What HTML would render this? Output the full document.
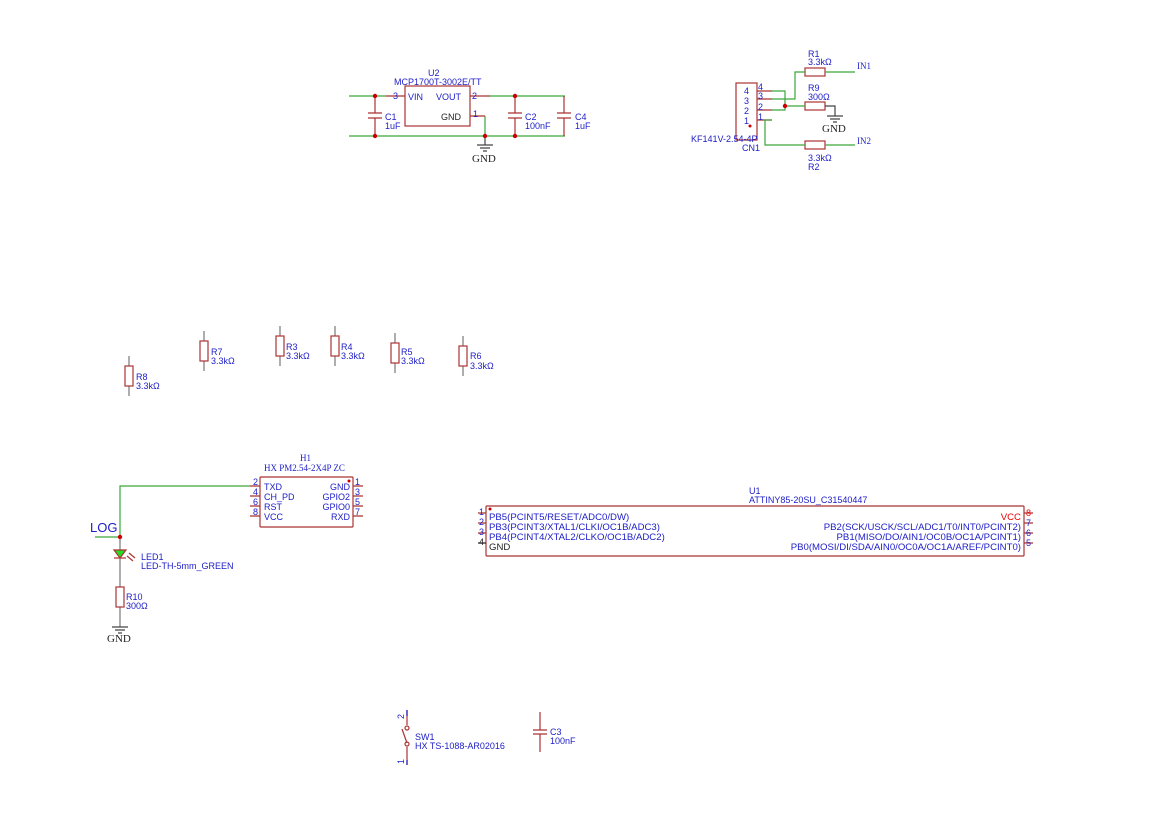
<!DOCTYPE html>
<html><head><meta charset="utf-8"><style>
html,body{margin:0;padding:0;background:#fff;}
svg{display:block;}
.b text{font-family:"Liberation Sans",sans-serif;}
.b{fill:#1c1cc8;font-size:9px;}
.u{font-size:9.6px;}
.ser text{font-family:"Liberation Serif",serif;}
</style></head><body>
<svg width="1169" height="827" viewBox="0 0 1169 827" xmlns="http://www.w3.org/2000/svg">
<g fill="none" stroke-width="1.2">
<g stroke="#3aa83a">
<path d="M349 96H386M490 96H565M349 136H565M485 116V136"/>
</g>
<g stroke="#a33">
<path d="M386 96H405M470 96H490M470 116H485"/>
<rect x="405" y="86" width="65" height="40"/>
<path d="M375 96V113M375 118V136M368 113H382M368 118H382"/>
<path d="M515 96V113M515 118V136M508 113H522M508 118H522"/>
<path d="M564 96V113M564 118V136M557 113H571M557 118H571"/>
</g>
<g stroke="#444"><path d="M485 136V145M477 145H493M480 148H490M483 151H487"/></g>
<g stroke="#a33">
<rect x="736" y="83" width="21" height="57"/>
<path d="M757 91H772M757 99H772M757 110H772M757 120H772"/>
<rect x="805" y="68" width="20" height="8"/>
<rect x="805" y="102" width="20" height="8"/>
<rect x="805" y="141" width="20" height="8"/>
</g>
<g stroke="#3aa83a">
<path d="M772 91H785V110H772M772 99H795V72H805M825 72H855M785 106H805M772 120H765V145H805M825 145H855"/>
</g>
<g stroke="#444"><path d="M825 106H835V116M827 116H843M830 119H840M833 122H837"/></g>
<g stroke="#a33">
<rect x="260" y="477" width="93" height="50" rx="1"/>
<path d="M250 486H260M250 496H260M250 506H260M250 516H260M353 486H363M353 496H363M353 506H363M353 516H363"/>
</g>
<g stroke="#3aa83a"><path d="M250 486H120V537M95 537H120"/></g>
<g stroke="#777"><path d="M120 537V550M120 558V587M120 607V627"/></g>
<path d="M114 550H126L120 558Z" fill="#22dd22" stroke="#a33"/>
<g stroke="#a33"><path d="M114 558H126"/><rect x="116" y="587" width="8" height="20"/>
<path d="M127 556L133 561M129 553L135 558"/></g>
<g stroke="#444"><path d="M112 627H128M115 630H125M118 633H122"/></g>
<g stroke="#a33">
<rect x="486" y="506" width="538" height="50" rx="1"/>
<path d="M478 513H486M478 523H486M478 533H486M1024 513H1033M1024 523H1033M1024 533H1033M1024 543H1033"/>
</g>
<path d="M478 543H486" stroke="#222"/>
<g stroke="#777">
<path d="M129 356V396M204 331V371M280 326V366M335 326V366M395 333V373M463 336V376"/>
</g>
<g stroke="#a33" fill="#fff">
<rect x="125" y="366" width="8" height="20"/>
<rect x="200" y="341" width="8" height="20"/>
<rect x="276" y="336" width="8" height="20"/>
<rect x="331" y="336" width="8" height="20"/>
<rect x="391" y="343" width="8" height="20"/>
<rect x="459" y="346" width="8" height="20"/>
</g>
<g stroke="#a33"><path d="M407 710V725M407 747V765M402 729L407 743"/></g>
<g stroke="#1c1cc8"><path d="M407 710V716M407 760V765"/></g>
<circle cx="407" cy="728" r="2" stroke="#a33"/>
<circle cx="407" cy="744" r="2" stroke="#a33"/>
<g stroke="#a33"><path d="M540 712V730M540 734V752M533 730H547M533 734H547"/></g>
</g>
<g fill="#c00">
<circle cx="375" cy="96" r="2.2"/><circle cx="375" cy="136" r="2.2"/>
<circle cx="515" cy="96" r="2.2"/><circle cx="515" cy="136" r="2.2"/>
<circle cx="485" cy="136" r="2.2"/><circle cx="785" cy="106" r="2.2"/>
<circle cx="120" cy="537" r="2.2"/>
<circle cx="750" cy="126" r="1.5"/><circle cx="349" cy="481" r="1.5"/><circle cx="490" cy="509" r="1.5"/>
</g>
<g class="b">
<text x="428" y="76">U2</text>
<text x="394" y="85">MCP1700T-3002E/TT</text>
<text x="393" y="99">3</text><text x="408" y="100">VIN</text><text x="436" y="100">VOUT</text><text x="472" y="99">2</text>
<text x="441" y="120" fill="#222">GND</text><text x="473" y="117">1</text>
<text x="385" y="120">C1</text><text x="385" y="129">1uF</text>
<text x="525" y="120">C2</text><text x="525" y="129">100nF</text>
<text x="575" y="120">C4</text><text x="575" y="129">1uF</text>
<text x="744" y="94">4</text><text x="744" y="104">3</text><text x="744" y="114">2</text><text x="744" y="124">1</text>
<text x="758" y="90">4</text><text x="758" y="99">3</text><text x="758" y="110">2</text><text x="758" y="120">1</text>
<text x="691" y="142">KF141V-2.54-4P</text><text x="742" y="151">CN1</text>
<text x="808" y="57">R1</text><text x="808" y="65">3.3kΩ</text>
<text x="808" y="91">R9</text><text x="808" y="100">300Ω</text>
<text x="808" y="161">3.3kΩ</text><text x="808" y="170">R2</text>
<text x="136" y="380">R8</text><text x="136" y="389">3.3kΩ</text>
<text x="211" y="355">R7</text><text x="211" y="364">3.3kΩ</text>
<text x="286" y="350">R3</text><text x="286" y="359">3.3kΩ</text>
<text x="341" y="350">R4</text><text x="341" y="359">3.3kΩ</text>
<text x="401" y="355">R5</text><text x="401" y="364">3.3kΩ</text>
<text x="470" y="359">R6</text><text x="470" y="369">3.3kΩ</text>
<text x="264" y="490">TXD</text><text x="264" y="500">CH_PD</text><text x="264" y="510">RST</text><text x="264" y="520">VCC</text>
<text x="350" y="490" text-anchor="end">GND</text><text x="350" y="500" text-anchor="end">GPIO2</text><text x="350" y="510" text-anchor="end">GPIO0</text><text x="350" y="520" text-anchor="end">RXD</text>
<text x="253" y="485">2</text><text x="253" y="495">4</text><text x="253" y="505">6</text><text x="253" y="515">8</text>
<text x="355" y="485">1</text><text x="355" y="495">3</text><text x="355" y="505">5</text><text x="355" y="515">7</text>
<text x="141" y="560">LED1</text><text x="141" y="569">LED-TH-5mm_GREEN</text>
<text x="126" y="600">R10</text><text x="126" y="609">300Ω</text>
<text x="749" y="494">U1</text><text x="749" y="503">ATTINY85-20SU_C31540447</text>
<g class="u">
<text x="489" y="520">PB5(PCINT5/RESET/ADC0/DW)</text>
<text x="489" y="530">PB3(PCINT3/XTAL1/CLKI/OC1B/ADC3)</text>
<text x="489" y="540">PB4(PCINT4/XTAL2/CLKO/OC1B/ADC2)</text>
<text x="489" y="550" fill="#222">GND</text>
<text x="1021" y="520" text-anchor="end" fill="#e00">VCC</text>
<text x="1021" y="530" text-anchor="end">PB2(SCK/USCK/SCL/ADC1/T0/INT0/PCINT2)</text>
<text x="1021" y="540" text-anchor="end">PB1(MISO/DO/AIN1/OC0B/OC1A/PCINT1)</text>
<text x="1021" y="550" text-anchor="end">PB0(MOSI/DI/SDA/AIN0/OC0A/OC1A/AREF/PCINT0)</text>
</g>
<text x="479" y="515">1</text><text x="479" y="525">2</text><text x="479" y="535">3</text><text x="479" y="545" fill="#222">4</text>
<text x="1026" y="516" fill="#e00">8</text><text x="1026" y="526">7</text><text x="1026" y="536">6</text><text x="1026" y="546">5</text>
<text x="415" y="740">SW1</text><text x="415" y="749">HX TS-1088-AR02016</text>
<text x="550" y="735">C3</text><text x="550" y="744">100nF</text>
<text x="404" y="719" transform="rotate(-90 404 719)">2</text>
<text x="404" y="764" transform="rotate(-90 404 764)">1</text>
<text x="90" y="532" style="font-size:13px">LOG</text>
</g>
<g class="ser" fill="#222" font-size="11">
<text x="472" y="162">GND</text>
<text x="822" y="132">GND</text>
<text x="107" y="642">GND</text>
</g>
<g class="ser" fill="#1c1cc8" font-size="9">
<text x="300" y="461">H1</text><text x="264" y="471">HX PM2.54-2X4P ZC</text>
<text x="857" y="69">IN1</text><text x="857" y="144">IN2</text>
</g>
</svg>
</body></html>
